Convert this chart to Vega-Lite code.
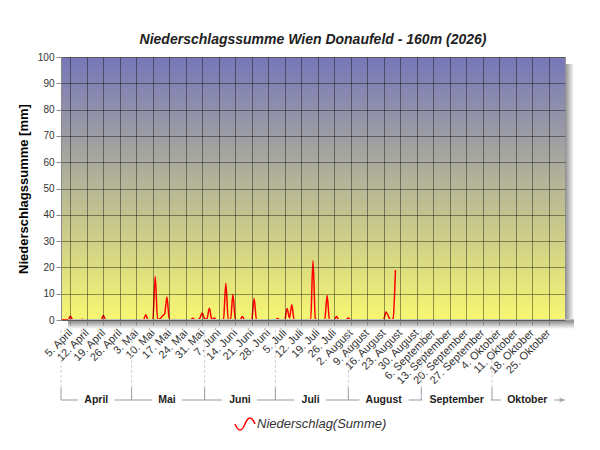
{
  "$schema": "https://vega.github.io/schema/vega-lite/v6.json",
  "background": "white",
  "padding": {"left": 16, "top": 32, "right": 5, "bottom": 5},
  "bounds": "flush",
  "spacing": 70,
  "config": {
    "font": "Liberation Sans",
    "view": {"stroke": null}
  },
  "datasets": {
    "rain": [
      {"d":"2026/04/01","v":0},{"d":"2026/04/02","v":0},{"d":"2026/04/03","v":0},{"d":"2026/04/04","v":0},
      {"d":"2026/04/05","v":1.4},{"d":"2026/04/06","v":0},{"d":"2026/04/07","v":0},{"d":"2026/04/08","v":0},
      {"d":"2026/04/09","v":0},{"d":"2026/04/10","v":0.3},{"d":"2026/04/11","v":0},{"d":"2026/04/12","v":0},
      {"d":"2026/04/13","v":0},{"d":"2026/04/14","v":0},{"d":"2026/04/15","v":0},{"d":"2026/04/16","v":0},
      {"d":"2026/04/17","v":0},{"d":"2026/04/18","v":0},{"d":"2026/04/19","v":1.7},{"d":"2026/04/20","v":0},
      {"d":"2026/04/21","v":0},{"d":"2026/04/22","v":0},{"d":"2026/04/23","v":0},{"d":"2026/04/24","v":0},
      {"d":"2026/04/25","v":0},{"d":"2026/04/26","v":0},{"d":"2026/04/27","v":0},{"d":"2026/04/28","v":0},
      {"d":"2026/04/29","v":0},{"d":"2026/04/30","v":0},
      {"d":"2026/05/01","v":0},{"d":"2026/05/02","v":0},{"d":"2026/05/03","v":0},{"d":"2026/05/04","v":0},
      {"d":"2026/05/05","v":0},{"d":"2026/05/06","v":0},{"d":"2026/05/07","v":2.0},{"d":"2026/05/08","v":0},
      {"d":"2026/05/09","v":0},{"d":"2026/05/10","v":0},{"d":"2026/05/11","v":16.5},{"d":"2026/05/12","v":0.2},
      {"d":"2026/05/13","v":0.4},{"d":"2026/05/14","v":1.5},{"d":"2026/05/15","v":2.3},{"d":"2026/05/16","v":8.7},
      {"d":"2026/05/17","v":0},{"d":"2026/05/18","v":0},{"d":"2026/05/19","v":0.2},{"d":"2026/05/20","v":0},
      {"d":"2026/05/21","v":0},{"d":"2026/05/22","v":0},{"d":"2026/05/23","v":0},{"d":"2026/05/24","v":0},
      {"d":"2026/05/25","v":0},{"d":"2026/05/26","v":0},{"d":"2026/05/27","v":0.7},{"d":"2026/05/28","v":0},
      {"d":"2026/05/29","v":0},{"d":"2026/05/30","v":0.8},{"d":"2026/05/31","v":2.7},
      {"d":"2026/06/01","v":0.3},{"d":"2026/06/02","v":0.6},{"d":"2026/06/03","v":4.5},{"d":"2026/06/04","v":0.2},
      {"d":"2026/06/05","v":0.8},{"d":"2026/06/06","v":0},{"d":"2026/06/07","v":0},{"d":"2026/06/08","v":0},
      {"d":"2026/06/09","v":0.4},{"d":"2026/06/10","v":14.0},{"d":"2026/06/11","v":0.3},{"d":"2026/06/12","v":0.2},
      {"d":"2026/06/13","v":9.7},{"d":"2026/06/14","v":0.3},{"d":"2026/06/15","v":0},{"d":"2026/06/16","v":0},
      {"d":"2026/06/17","v":1.3},{"d":"2026/06/18","v":0},{"d":"2026/06/19","v":0},{"d":"2026/06/20","v":0},
      {"d":"2026/06/21","v":0.3},{"d":"2026/06/22","v":8.2},{"d":"2026/06/23","v":0},{"d":"2026/06/24","v":0},
      {"d":"2026/06/25","v":0},{"d":"2026/06/26","v":0},{"d":"2026/06/27","v":0},{"d":"2026/06/28","v":0},
      {"d":"2026/06/29","v":0},{"d":"2026/06/30","v":0},
      {"d":"2026/07/01","v":0},{"d":"2026/07/02","v":0.6},{"d":"2026/07/03","v":0},{"d":"2026/07/04","v":0},
      {"d":"2026/07/05","v":0},{"d":"2026/07/06","v":4.4},{"d":"2026/07/07","v":0.8},{"d":"2026/07/08","v":5.8},
      {"d":"2026/07/09","v":0},{"d":"2026/07/10","v":0},{"d":"2026/07/11","v":0},{"d":"2026/07/12","v":0},
      {"d":"2026/07/13","v":0},{"d":"2026/07/14","v":0},{"d":"2026/07/15","v":0},{"d":"2026/07/16","v":0.3},
      {"d":"2026/07/17","v":22.5},{"d":"2026/07/18","v":0.5},{"d":"2026/07/19","v":0},{"d":"2026/07/20","v":0},
      {"d":"2026/07/21","v":0},{"d":"2026/07/22","v":0.2},{"d":"2026/07/23","v":9.3},{"d":"2026/07/24","v":0},
      {"d":"2026/07/25","v":0},{"d":"2026/07/26","v":0},{"d":"2026/07/27","v":1.3},{"d":"2026/07/28","v":0},
      {"d":"2026/07/29","v":0},{"d":"2026/07/30","v":0},{"d":"2026/07/31","v":0},
      {"d":"2026/08/01","v":0.8},{"d":"2026/08/02","v":0},{"d":"2026/08/03","v":0},{"d":"2026/08/04","v":0},
      {"d":"2026/08/05","v":0},{"d":"2026/08/06","v":0},{"d":"2026/08/07","v":0},{"d":"2026/08/08","v":0},
      {"d":"2026/08/09","v":0},{"d":"2026/08/10","v":0},{"d":"2026/08/11","v":0},{"d":"2026/08/12","v":0},
      {"d":"2026/08/13","v":0},{"d":"2026/08/14","v":0},{"d":"2026/08/15","v":0},{"d":"2026/08/16","v":0.2},
      {"d":"2026/08/17","v":3.0},{"d":"2026/08/18","v":1.5},{"d":"2026/08/19","v":0},{"d":"2026/08/20","v":0.5},
      {"d":"2026/08/21","v":19.0}
    ],
    "months": [
      {"m":"April","start":"2026/04/01","end":"2026/05/01","mid":"2026/04/16"},
      {"m":"Mai","start":"2026/05/01","end":"2026/06/01","mid":"2026/05/16"},
      {"m":"Juni","start":"2026/06/01","end":"2026/07/01","mid":"2026/06/16"},
      {"m":"Juli","start":"2026/07/01","end":"2026/08/01","mid":"2026/07/16"},
      {"m":"August","start":"2026/08/01","end":"2026/09/01","mid":"2026/08/16"},
      {"m":"September","start":"2026/09/01","end":"2026/10/01","mid":"2026/09/16"},
      {"m":"Oktober","start":"2026/10/01","end":"2026/11/01","mid":"2026/10/16"}
    ]
  },
  "vconcat": [
    {
      "title": {
        "text": "Niederschlagssumme Wien Donaufeld - 160m (2026)",
        "fontSize": 14,
        "fontStyle": "italic",
        "fontWeight": "bold",
        "color": "#222",
        "anchor": "middle",
        "offset": 5
      },
      "width": 504,
      "height": 263,
      "view": {
        "fill": {
          "gradient": "linear", "x1": 0, "y1": 0, "x2": 0, "y2": 1,
          "stops": [{"offset": 0, "color": "#7676b9"}, {"offset": 1, "color": "#f7f772"}]
        },
        "stroke": "#999"
      },
      "layer": [
        {
          "data": {"name": "rain"},
          "mark": {"type": "line", "interpolate": "monotone", "strokeWidth": 1.5, "clip": true},
          "encoding": {
            "x": {
              "field": "d",
              "type": "temporal",
              "scale": {"domain": [{"year": 2026, "month": 4, "date": 1}, {"year": 2026, "month": 11, "date": 1}]},
              "axis": {
                "title": null,
                "zindex": 1,
                "values": [
                  {"year": 2026, "month": 4, "date": 5}, {"year": 2026, "month": 4, "date": 12},
                  {"year": 2026, "month": 4, "date": 19}, {"year": 2026, "month": 4, "date": 26},
                  {"year": 2026, "month": 5, "date": 3}, {"year": 2026, "month": 5, "date": 10},
                  {"year": 2026, "month": 5, "date": 17}, {"year": 2026, "month": 5, "date": 24},
                  {"year": 2026, "month": 5, "date": 31}, {"year": 2026, "month": 6, "date": 7},
                  {"year": 2026, "month": 6, "date": 14}, {"year": 2026, "month": 6, "date": 21},
                  {"year": 2026, "month": 6, "date": 28}, {"year": 2026, "month": 7, "date": 5},
                  {"year": 2026, "month": 7, "date": 12}, {"year": 2026, "month": 7, "date": 19},
                  {"year": 2026, "month": 7, "date": 26}, {"year": 2026, "month": 8, "date": 2},
                  {"year": 2026, "month": 8, "date": 9}, {"year": 2026, "month": 8, "date": 16},
                  {"year": 2026, "month": 8, "date": 23}, {"year": 2026, "month": 8, "date": 30},
                  {"year": 2026, "month": 9, "date": 6}, {"year": 2026, "month": 9, "date": 13},
                  {"year": 2026, "month": 9, "date": 20}, {"year": 2026, "month": 9, "date": 27},
                  {"year": 2026, "month": 10, "date": 4}, {"year": 2026, "month": 10, "date": 11},
                  {"year": 2026, "month": 10, "date": 18}, {"year": 2026, "month": 10, "date": 25}
                ],
                "labelExpr": "date(datum.value) + '. ' + ['Januar','Februar','März','April','Mai','Juni','Juli','August','September','Oktober','November','Dezember'][month(datum.value)]",
                "labelAngle": -45,
                "labelAlign": "right",
                "labelBaseline": "middle",
                "labelFontSize": 11,
                "labelColor": "#333",
                "labelPadding": 6,
                "labelOverlap": false,
                "labelFlush": false,
                "labelBound": false,
                "domain": false,
                "tickColor": "#888",
                "tickSize": 5,
                "grid": true,
                "gridColor": "#000",
                "gridOpacity": 0.4
              }
            },
            "y": {
              "field": "v",
              "type": "quantitative",
              "scale": {"domain": [0, 100]},
              "axis": {
                "title": "Niederschlagssumme [mm]",
                "titleFontSize": 13,
                "titleFontWeight": "bold",
                "titleColor": "#000",
                "titlePadding": 7,
                "zindex": 1,
                "values": [0, 10, 20, 30, 40, 50, 60, 70, 80, 90, 100],
                "labelFontSize": 10,
                "labelColor": "#333",
                "labelPadding": 2,
                "labelOverlap": false,
                "domainColor": "#888",
                "tickColor": "#888",
                "tickSize": 5,
                "grid": true,
                "gridColor": "#000",
                "gridOpacity": 0.4
              }
            },
            "color": {
              "datum": "Niederschlag(Summe)",
              "scale": {"range": ["#ff0000"]},
              "legend": {
                "title": null,
                "orient": "none",
                "legendX": 173,
                "legendY": 356,
                "labelFontSize": 13,
                "labelFontStyle": "italic",
                "labelColor": "#333",
                "labelOffset": 1,
                "symbolType": "M-1,0C-0.66,0.8 -0.33,0.8 0,0C0.33,-0.8 0.66,-0.8 1,0",
                "symbolSize": 400,
                "symbolStrokeWidth": 1.5
              }
            }
          }
        },
        {
          "data": {"values": [{}]},
          "mark": {
            "type": "rect",
            "yOffset": 7,
            "y2Offset": 9,
            "x2Offset": 9,
            "fill": {
              "gradient": "linear", "x1": 0, "y1": 0, "x2": 1, "y2": 0,
              "stops": [{"offset": 0, "color": "#8c8c8c"}, {"offset": 1, "color": "#ffffff"}]
            }
          },
          "encoding": {
            "x": {
              "datum": {"year": 2026, "month": 11, "date": 1},
              "type": "temporal",
              "axis": {
                "title": null,
                "zindex": 1,
                "values": [
                  {"year": 2026, "month": 4, "date": 5}, {"year": 2026, "month": 4, "date": 12},
                  {"year": 2026, "month": 4, "date": 19}, {"year": 2026, "month": 4, "date": 26},
                  {"year": 2026, "month": 5, "date": 3}, {"year": 2026, "month": 5, "date": 10},
                  {"year": 2026, "month": 5, "date": 17}, {"year": 2026, "month": 5, "date": 24},
                  {"year": 2026, "month": 5, "date": 31}, {"year": 2026, "month": 6, "date": 7},
                  {"year": 2026, "month": 6, "date": 14}, {"year": 2026, "month": 6, "date": 21},
                  {"year": 2026, "month": 6, "date": 28}, {"year": 2026, "month": 7, "date": 5},
                  {"year": 2026, "month": 7, "date": 12}, {"year": 2026, "month": 7, "date": 19},
                  {"year": 2026, "month": 7, "date": 26}, {"year": 2026, "month": 8, "date": 2},
                  {"year": 2026, "month": 8, "date": 9}, {"year": 2026, "month": 8, "date": 16},
                  {"year": 2026, "month": 8, "date": 23}, {"year": 2026, "month": 8, "date": 30},
                  {"year": 2026, "month": 9, "date": 6}, {"year": 2026, "month": 9, "date": 13},
                  {"year": 2026, "month": 9, "date": 20}, {"year": 2026, "month": 9, "date": 27},
                  {"year": 2026, "month": 10, "date": 4}, {"year": 2026, "month": 10, "date": 11},
                  {"year": 2026, "month": 10, "date": 18}, {"year": 2026, "month": 10, "date": 25}
                ],
                "labelExpr": "date(datum.value) + '. ' + ['Januar','Februar','März','April','Mai','Juni','Juli','August','September','Oktober','November','Dezember'][month(datum.value)]",
                "labelAngle": -45,
                "labelAlign": "right",
                "labelBaseline": "middle",
                "labelFontSize": 11,
                "labelColor": "#333",
                "labelPadding": 6,
                "labelOverlap": false,
                "labelFlush": false,
                "labelBound": false,
                "domain": false,
                "tickColor": "#888",
                "tickSize": 5,
                "grid": true,
                "gridColor": "#000",
                "gridOpacity": 0.4
              }
            },
            "x2": {"datum": {"year": 2026, "month": 11, "date": 1}},
            "y": {
              "datum": 100,
              "type": "quantitative",
              "axis": {
                "title": "Niederschlagssumme [mm]",
                "titleFontSize": 13,
                "titleFontWeight": "bold",
                "titleColor": "#000",
                "titlePadding": 7,
                "zindex": 1,
                "values": [0, 10, 20, 30, 40, 50, 60, 70, 80, 90, 100],
                "labelFontSize": 10,
                "labelColor": "#333",
                "labelPadding": 2,
                "labelOverlap": false,
                "domainColor": "#888",
                "tickColor": "#888",
                "tickSize": 5,
                "grid": true,
                "gridColor": "#000",
                "gridOpacity": 0.4
              }
            },
            "y2": {"datum": 0}
          }
        },
        {
          "data": {"values": [{}]},
          "mark": {
            "type": "rect",
            "xOffset": 7,
            "x2Offset": 9,
            "yOffset": -1,
            "y2Offset": 9,
            "fill": {
              "gradient": "linear", "x1": 0, "y1": 0, "x2": 0, "y2": 1,
              "stops": [{"offset": 0, "color": "#d8d8c8"}, {"offset": 0.18, "color": "#8c8c8c"}, {"offset": 1, "color": "#ffffff"}]
            }
          },
          "encoding": {
            "x": {
              "datum": {"year": 2026, "month": 4, "date": 1},
              "type": "temporal",
              "axis": {
                "title": null,
                "zindex": 1,
                "values": [
                  {"year": 2026, "month": 4, "date": 5}, {"year": 2026, "month": 4, "date": 12},
                  {"year": 2026, "month": 4, "date": 19}, {"year": 2026, "month": 4, "date": 26},
                  {"year": 2026, "month": 5, "date": 3}, {"year": 2026, "month": 5, "date": 10},
                  {"year": 2026, "month": 5, "date": 17}, {"year": 2026, "month": 5, "date": 24},
                  {"year": 2026, "month": 5, "date": 31}, {"year": 2026, "month": 6, "date": 7},
                  {"year": 2026, "month": 6, "date": 14}, {"year": 2026, "month": 6, "date": 21},
                  {"year": 2026, "month": 6, "date": 28}, {"year": 2026, "month": 7, "date": 5},
                  {"year": 2026, "month": 7, "date": 12}, {"year": 2026, "month": 7, "date": 19},
                  {"year": 2026, "month": 7, "date": 26}, {"year": 2026, "month": 8, "date": 2},
                  {"year": 2026, "month": 8, "date": 9}, {"year": 2026, "month": 8, "date": 16},
                  {"year": 2026, "month": 8, "date": 23}, {"year": 2026, "month": 8, "date": 30},
                  {"year": 2026, "month": 9, "date": 6}, {"year": 2026, "month": 9, "date": 13},
                  {"year": 2026, "month": 9, "date": 20}, {"year": 2026, "month": 9, "date": 27},
                  {"year": 2026, "month": 10, "date": 4}, {"year": 2026, "month": 10, "date": 11},
                  {"year": 2026, "month": 10, "date": 18}, {"year": 2026, "month": 10, "date": 25}
                ],
                "labelExpr": "date(datum.value) + '. ' + ['Januar','Februar','März','April','Mai','Juni','Juli','August','September','Oktober','November','Dezember'][month(datum.value)]",
                "labelAngle": -45,
                "labelAlign": "right",
                "labelBaseline": "middle",
                "labelFontSize": 11,
                "labelColor": "#333",
                "labelPadding": 6,
                "labelOverlap": false,
                "labelFlush": false,
                "labelBound": false,
                "domain": false,
                "tickColor": "#888",
                "tickSize": 5,
                "grid": true,
                "gridColor": "#000",
                "gridOpacity": 0.4
              }
            },
            "x2": {"datum": {"year": 2026, "month": 11, "date": 1}},
            "y": {
              "datum": 0,
              "type": "quantitative",
              "axis": {
                "title": "Niederschlagssumme [mm]",
                "titleFontSize": 13,
                "titleFontWeight": "bold",
                "titleColor": "#000",
                "titlePadding": 7,
                "zindex": 1,
                "values": [0, 10, 20, 30, 40, 50, 60, 70, 80, 90, 100],
                "labelFontSize": 10,
                "labelColor": "#333",
                "labelPadding": 2,
                "labelOverlap": false,
                "domainColor": "#888",
                "tickColor": "#888",
                "tickSize": 5,
                "grid": true,
                "gridColor": "#000",
                "gridOpacity": 0.4
              }
            },
            "y2": {"datum": 0}
          }
        }
      ]
    },
    {
      "width": 504,
      "height": 20,
      "data": {"name": "months"},
      "layer": [
        {
          "mark": {"type": "rule", "color": "#999", "strokeWidth": 1},
          "encoding": {
            "x": {
              "field": "start",
              "type": "temporal",
              "scale": {"domain": [{"year": 2026, "month": 4, "date": 1}, {"year": 2026, "month": 11, "date": 1}]},
              "axis": null
            },
            "x2": {"field": "end"},
            "y": {"datum": 0.5, "type": "quantitative", "scale": {"domain": [0, 1]}, "axis": null}
          }
        },
        {
          "mark": {"type": "rule", "color": "#999", "strokeWidth": 1},
          "encoding": {
            "x": {"field": "start", "type": "temporal", "axis": null},
            "y": {"datum": 0.5, "type": "quantitative", "axis": null},
            "y2": {"datum": 1.1}
          }
        },
        {
          "mark": {"type": "rule", "color": "#cfcfcf", "strokeWidth": 1, "strokeDash": [3, 2]},
          "encoding": {
            "x": {"field": "start", "type": "temporal", "axis": null},
            "y": {"datum": 1.1, "type": "quantitative", "axis": null},
            "y2": {"datum": 4.1}
          }
        },
        {
          "mark": {"type": "text", "fontSize": 10.5, "fontWeight": "bold", "stroke": "white", "strokeWidth": 14, "fill": "white"},
          "encoding": {
            "x": {"field": "mid", "type": "temporal", "axis": null},
            "y": {"datum": 0.5, "type": "quantitative", "axis": null},
            "text": {"field": "m"}
          }
        },
        {
          "mark": {"type": "text", "fontSize": 10.5, "fontWeight": "bold", "color": "#222"},
          "encoding": {
            "x": {"field": "mid", "type": "temporal", "axis": null},
            "y": {"datum": 0.5, "type": "quantitative", "axis": null},
            "text": {"field": "m"}
          }
        },
        {
          "data": {"values": [{}]},
          "mark": {"type": "point", "shape": "triangle-right", "filled": true, "color": "#999", "size": 30, "xOffset": -3},
          "encoding": {
            "x": {"datum": {"year": 2026, "month": 11, "date": 1}, "type": "temporal", "axis": null},
            "y": {"datum": 0.5, "type": "quantitative", "axis": null}
          }
        }
      ]
    }
  ]
}
